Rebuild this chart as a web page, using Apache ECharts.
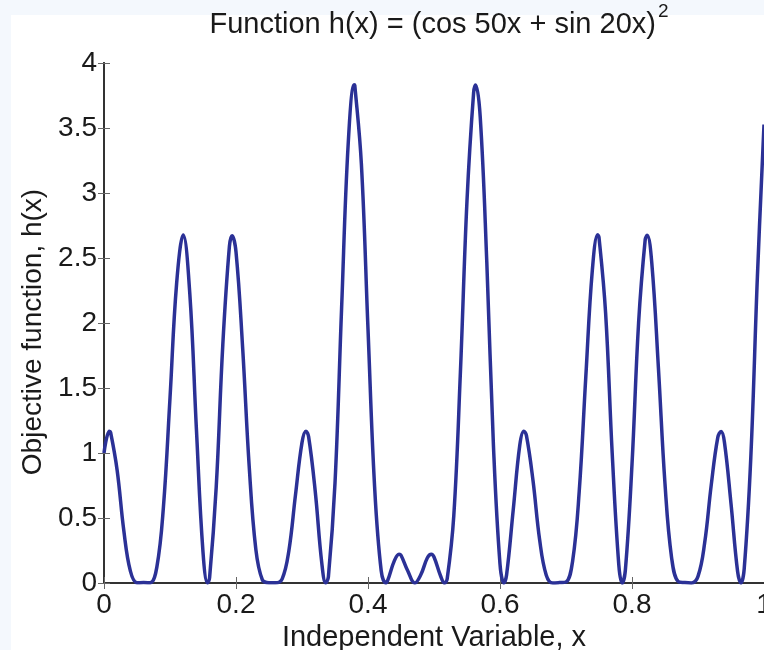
<!DOCTYPE html>
<html>
<head>
<meta charset="utf-8">
<title>h(x)</title>
<script src="https://cdn.jsdelivr.net/npm/echarts@6/dist/echarts.min.js"></script>
<style>
  html, body { margin: 0; padding: 0; background: #f4f8fd; }
  #chart { width: 764px; height: 650px; }
</style>
</head>
<body>
<div id="chart"></div>
<script>
// values
var xValues = [
  0, 0.008, 0.01, 0.02, 0.03, 0.04, 0.05, 0.06, 0.07, 0.08, 0.09,
  0.10, 0.11, 0.12, 0.13, 0.14, 0.15, 0.157, 0.16, 0.17, 0.18, 0.19, 0.194,
  0.20, 0.21, 0.22, 0.23, 0.24, 0.25, 0.26, 0.27, 0.28, 0.29,
  0.30, 0.306, 0.31, 0.32, 0.33, 0.336, 0.34, 0.35, 0.36, 0.37, 0.379, 0.38, 0.39,
  0.40, 0.41, 0.42, 0.427, 0.43, 0.44, 0.447, 0.45, 0.46, 0.471, 0.48, 0.49, 0.496,
  0.50, 0.51, 0.516, 0.52, 0.53, 0.54, 0.55, 0.56, 0.563, 0.57, 0.58, 0.59,
  0.60, 0.606, 0.61, 0.62, 0.63, 0.636, 0.64, 0.65, 0.66, 0.67, 0.68, 0.69,
  0.70, 0.71, 0.72, 0.73, 0.74, 0.748, 0.75, 0.76, 0.77, 0.78, 0.785, 0.79,
  0.80, 0.81, 0.82, 0.823, 0.83, 0.84, 0.85, 0.86, 0.87, 0.88, 0.89,
  0.90, 0.91, 0.92, 0.93, 0.935, 0.94, 0.95, 0.96, 0.965, 0.97, 0.98, 0.99, 1.00
]
var hValues = [
  1.00, 1.167, 1.158, 0.864, 0.404, 0.091, 0.002, 0.003, 0.002, 0.120, 0.582,
  1.423, 2.302, 2.676, 2.226, 1.186, 0.238, 0, 0.042, 0.735, 1.832, 2.589, 2.672,
  2.547, 1.815, 0.897, 0.261, 0.023, 0.002, 0.001, 0.032, 0.245, 0.672,
  1.080, 1.168, 1.126, 0.708, 0.153, 0, 0.048, 0.768, 2.114, 3.379, 3.833, 3.828, 3.220,
  1.953, 0.741, 0.094, 0, 0.022, 0.172, 0.222, 0.213, 0.096, 0, 0.063, 0.194, 0.221,
  0.200, 0.054, 0, 0.033, 0.519, 1.621, 2.941, 3.770, 3.831, 3.587, 2.468, 1.065,
  0.146, 0, 0.063, 0.561, 1.061, 1.167, 1.136, 0.788, 0.335, 0.062, 0.000, 0.003,
  0.008, 0.168, 0.702, 1.586, 2.412, 2.678, 2.659, 2.078, 0.998, 0.140, 0, 0.102,
  0.912, 2.002, 2.642, 2.675, 2.461, 1.657, 0.762, 0.195, 0.011, 0.003, 0.000,
  0.051, 0.305, 0.751, 1.120, 1.166, 1.085, 0.611, 0.088, 0, 0.109, 0.965, 2.357, 3.527
]

var font = 'Liberation Sans, Arial, Helvetica, sans-serif'
var textColor = '#1a1a1a'
var axisColor = '#333'
var tickColor = '#666'

var points = xValues.map(function (x, i) { return [x, hValues[i]] })

var chart = echarts.init(document.getElementById('chart'))

chart.setOption({
  backgroundColor: '#f4f8fd',
  animation: false,
  // white figure area
  graphic: [{
    type: 'rect',
    z: -10,
    shape: { x: 11, y: 15, width: 760, height: 640 },
    style: { fill: '#fff' }
  }],
  title: {
    text: '{t|Function h(x) = (cos 50x + sin 20x)}{s|2}',
    left: 434,
    top: -3,
    textAlign: 'center',
    textStyle: {
      rich: {
        t: { fontFamily: font, fontSize: 29, fontWeight: 'normal', color: textColor, verticalAlign: 'bottom' },
        s: { fontFamily: font, fontSize: 19, fontWeight: 'normal', color: textColor, verticalAlign: 'top', padding: [0, 0, 18, 2] }
      }
    }
  },
  grid: {
    left: 104,
    right: 0,
    top: 63,
    bottom: 67,
    containLabel: false,
    outerBoundsMode: 'none'
  },
  xAxis: [{
    type: 'value',
    min: 0,
    max: 1,
    interval: 0.2,
    name: 'Independent Variable, x',
    nameLocation: 'middle',
    nameGap: 36,
    nameTextStyle: { fontFamily: font, fontSize: 29, color: textColor },
    splitLine: { show: false },
    axisLine: { lineStyle: { color: axisColor, width: 2 } },
    axisTick: { inside: true, length: 6, lineStyle: { color: tickColor } },
    axisLabel: { fontFamily: font, fontSize: 28, color: textColor, margin: 8 }
  }, {
    // top border with ticks
    type: 'value',
    position: 'top',
    min: 0,
    max: 1,
    interval: 0.2,
    splitLine: { show: false },
    axisLine: { lineStyle: { color: axisColor, width: 2 } },
    axisTick: { inside: true, length: 6, lineStyle: { color: tickColor } },
    axisLabel: { show: false }
  }],
  yAxis: [{
    type: 'value',
    min: 0,
    max: 4,
    interval: 0.5,
    name: 'Objective function, h(x)',
    nameLocation: 'middle',
    nameRotate: 90,
    nameGap: 56,
    nameTextStyle: { fontFamily: font, fontSize: 28, color: textColor, padding: [0, 18, 0, 0] },
    splitLine: { show: false },
    axisLine: { lineStyle: { color: axisColor, width: 2 } },
    axisTick: { inside: true, length: 6, lineStyle: { color: tickColor } },
    axisLabel: { fontFamily: font, fontSize: 28, color: textColor, margin: 7 }
  }, {
    // right border with ticks
    type: 'value',
    position: 'right',
    min: 0,
    max: 4,
    interval: 0.5,
    splitLine: { show: false },
    axisLine: { show: true, lineStyle: { color: axisColor, width: 2 } },
    axisTick: { inside: true, length: 6, lineStyle: { color: tickColor } },
    axisLabel: { show: false }
  }],
  series: [{
    name: 'h(x)',
    type: 'line',
    data: points,
    smooth: 0.4,
    showSymbol: false,
    symbol: 'none',
    clip: true,
    lineStyle: { color: '#2b3196', width: 3.5 }
  }]
})
</script>
</body>
</html>
